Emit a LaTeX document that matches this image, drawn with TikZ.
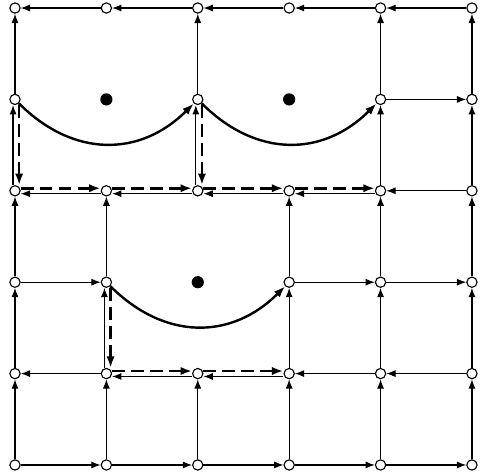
\documentclass[tikz,border=0pt]{standalone}
\usepackage{tikz}
\usetikzlibrary{arrows.meta}

\begin{document}
\begin{tikzpicture}[
  vtx/.style={draw, circle, fill=white, inner sep=0pt,
              minimum size=3.2pt, line width=0.35pt},
  obst/.style={circle, fill=black, inner sep=0pt, minimum size=3.8pt},
  arrow/.style={-{Latex[length=2.9pt,width=2.2pt]}, line width=0.35pt},
  route/.style={-{Latex[length=3.6pt,width=2.6pt]}, line width=0.8pt,
                dash pattern=on 4pt off 1.9pt},
  swing/.style={-{Latex[length=3.6pt,width=2.6pt]}, line width=0.75pt,
                out=-45, in=-135, looseness=1.12}
]
\useasboundingbox (-0.164,-0.098) rectangle (5.088,5.088);

% grid vertices (bottom row first)
\node[vtx] (v00) at (0,0) {}; \node[vtx] (v10) at (1,0) {}; \node[vtx] (v20) at (2,0) {};
\node[vtx] (v30) at (3,0) {}; \node[vtx] (v40) at (4,0) {}; \node[vtx] (v50) at (5,0) {};

\node[vtx] (v01) at (0,1) {}; \node[vtx] (v11) at (1,1) {}; \node[vtx] (v21) at (2,1) {};
\node[vtx] (v31) at (3,1) {}; \node[vtx] (v41) at (4,1) {}; \node[vtx] (v51) at (5,1) {};

\node[vtx] (v02) at (0,2) {}; \node[vtx] (v12) at (1,2) {};
\node[vtx] (v32) at (3,2) {}; \node[vtx] (v42) at (4,2) {}; \node[vtx] (v52) at (5,2) {};

\node[vtx] (v03) at (0,3) {}; \node[vtx] (v13) at (1,3) {}; \node[vtx] (v23) at (2,3) {};
\node[vtx] (v33) at (3,3) {}; \node[vtx] (v43) at (4,3) {}; \node[vtx] (v53) at (5,3) {};

\node[vtx] (v04) at (0,4) {}; \node[vtx] (v24) at (2,4) {};
\node[vtx] (v44) at (4,4) {}; \node[vtx] (v54) at (5,4) {};

\node[vtx] (v05) at (0,5) {}; \node[vtx] (v15) at (1,5) {}; \node[vtx] (v25) at (2,5) {};
\node[vtx] (v35) at (3,5) {}; \node[vtx] (v45) at (4,5) {}; \node[vtx] (v55) at (5,5) {};

% obstacles
\node[obst] (o14) at (1,4) {};
\node[obst] (o34) at (3,4) {};
\node[obst] (o22) at (2,2) {};

% top row
\draw[arrow] (v55) -- (v45); \draw[arrow] (v45) -- (v35); \draw[arrow] (v35) -- (v25);
\draw[arrow] (v25) -- (v15); \draw[arrow] (v15) -- (v05);

% bottom row
\draw[arrow] (v00) -- (v10); \draw[arrow] (v10) -- (v20); \draw[arrow] (v20) -- (v30);
\draw[arrow] (v30) -- (v40); \draw[arrow] (v40) -- (v50);

% columns
\draw[arrow] (v00) -- (v01); \draw[arrow] (v01) -- (v02); \draw[arrow] (v02) -- (v03);
\draw[arrow] ([xshift=-0.6pt]v03.north) -- ([xshift=-0.6pt]v04.south);
\draw[arrow] (v04) -- (v05);

\draw[arrow] (v10) -- (v11);
\draw[arrow] ([xshift=-0.6pt]v11.north) -- ([xshift=-0.6pt]v12.south);
\draw[arrow] (v12) -- (v13);

\draw[arrow] (v20) -- (v21);
\draw[arrow] ([xshift=-0.6pt]v23.north) -- ([xshift=-0.6pt]v24.south);
\draw[arrow] (v24) -- (v25);

\draw[arrow] (v30) -- (v31); \draw[arrow] (v31) -- (v32); \draw[arrow] (v32) -- (v33);

\draw[arrow] (v40) -- (v41); \draw[arrow] (v41) -- (v42); \draw[arrow] (v42) -- (v43);
\draw[arrow] (v43) -- (v44); \draw[arrow] (v44) -- (v45);

\draw[arrow] (v50) -- (v51); \draw[arrow] (v51) -- (v52); \draw[arrow] (v52) -- (v53);
\draw[arrow] (v53) -- (v54); \draw[arrow] (v54) -- (v55);

% middle rows
\draw[arrow] (v44) -- (v54);
\draw[arrow] (v02) -- (v12); \draw[arrow] (v32) -- (v42); \draw[arrow] (v42) -- (v52);

\draw[arrow] (v53) -- (v43);
\draw[arrow] ([yshift=-0.9pt]v43.west) -- ([yshift=-0.9pt]v33.east);
\draw[arrow] ([yshift=-0.9pt]v33.west) -- ([yshift=-0.9pt]v23.east);
\draw[arrow] ([yshift=-0.9pt]v23.west) -- ([yshift=-0.9pt]v13.east);
\draw[arrow] ([yshift=-0.9pt]v13.west) -- ([yshift=-0.9pt]v03.east);

\draw[arrow] (v51) -- (v41); \draw[arrow] (v41) -- (v31);
\draw[arrow] ([yshift=-0.9pt]v31.west) -- ([yshift=-0.9pt]v21.east);
\draw[arrow] ([yshift=-0.9pt]v21.west) -- ([yshift=-0.9pt]v11.east);
\draw[arrow] (v11) -- (v01);

% swings round the obstacles
\draw[swing] (v04) to (v24);
\draw[swing] (v24) to (v44);
\draw[swing] (v12) to (v32);

% dashed route
\draw[route] ([xshift=1.3pt]v04.south) -- ([xshift=1.3pt]v03.north);
\draw[route] ([yshift=0.8pt]v03.east) -- ([yshift=0.8pt]v13.west);
\draw[route] ([yshift=0.8pt]v13.east) -- ([yshift=0.8pt]v23.west);
\draw[route] ([yshift=0.8pt]v23.east) -- ([yshift=0.8pt]v33.west);
\draw[route] ([yshift=0.8pt]v33.east) -- ([yshift=0.8pt]v43.west);
\draw[route] ([xshift=1.3pt]v24.south) -- ([xshift=1.3pt]v23.north);
\draw[route] ([xshift=1.3pt]v12.south) -- ([xshift=1.3pt]v11.north);
\draw[route] ([yshift=0.8pt]v11.east) -- ([yshift=0.8pt]v21.west);
\draw[route] ([yshift=0.8pt]v21.east) -- ([yshift=0.8pt]v31.west);

\end{tikzpicture}
\end{document}
